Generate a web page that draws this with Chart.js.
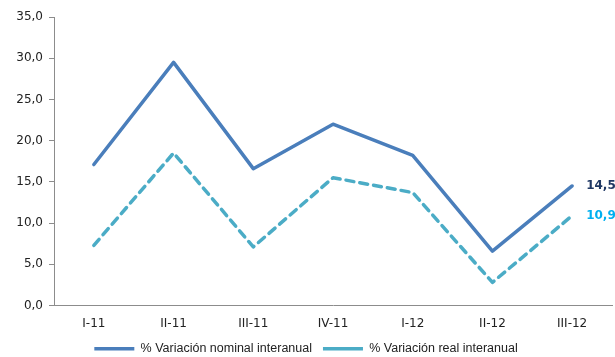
<!DOCTYPE html>
<html>
<head>
<meta charset="utf-8">
<script src="https://cdn.jsdelivr.net/npm/chart.js@4"></script>
<style>
  html, body { margin: 0; padding: 0; background: #fff; }
  #wrap { width: 615px; height: 357px; position: relative; }
</style>
</head>
<body>
<div id="wrap"><canvas id="c"></canvas></div>
<script>
// data
const periods  = ['I-11', 'II-11', 'III-11', 'IV-11', 'I-12', 'II-12', 'III-12'];
const nominal  = [17.1, 29.5, 16.6, 22.0, 18.2, 6.6, 14.5];
const real     = [7.3, 18.5, 7.1, 15.5, 13.7, 2.8, 10.9];
const yTicks   = [0, 5, 10, 15, 20, 25, 30, 35];

const fmt = v => v.toFixed(1).replace('.', ',');

// last-point labels (14,5 / 10,9)
const endLabels = {
  id: 'endLabels',
  afterDatasetsDraw(chart) {
    const ctx = chart.ctx;
    const colors = ['#1f3864', '#00b0f0'];
    ctx.save();
    ctx.font = 'bold 12px "DejaVu Sans", Verdana, sans-serif';
    ctx.textBaseline = 'middle';
    chart.data.datasets.forEach((ds, i) => {
      const meta = chart.getDatasetMeta(i);
      const pt = meta.data[meta.data.length - 1];
      ctx.fillStyle = colors[i];
      ctx.fillText(fmt(ds.data[ds.data.length - 1]), pt.x + 14, pt.y);
    });
    ctx.restore();
  }
};

new Chart(document.getElementById('c').getContext('2d'), {
  type: 'line',
  data: {
    labels: periods,
    datasets: [
      { label: '% Variación nominal interanual', data: nominal, borderColor: '#4a7ebb', backgroundColor: '#4a7ebb',
        borderWidth: 3.5, pointRadius: 0, fill: false, tension: 0, borderCapStyle: 'round', borderJoinStyle: 'round' },
      { label: '% Variación real interanual', data: real, borderColor: '#4bacc6', backgroundColor: '#4bacc6',
        borderWidth: 3.5, borderDash: [8, 6], pointRadius: 0, fill: false, tension: 0, borderCapStyle: 'round', borderJoinStyle: 'round' },
    ]
  },
  options: {
    responsive: true, maintainAspectRatio: false, animation: false,
    layout: { padding: { top: 17, right: 3, left: 0, bottom: -8 } },
    plugins: {
      legend: {
        position: 'bottom',
        labels: {
          usePointStyle: true, pointStyle: 'line', pointStyleWidth: 40,
          color: '#222', padding: 11, boxHeight: 4,
          font: { size: 12.5, family: '"Liberation Sans", Arial, sans-serif' }
        }
      },
      tooltip: { enabled: false }
    },
    scales: {
      x: {
        offset: true,
        grid: { display: false, drawTicks: false },
        border: { color: '#8c8c8c', width: 1 },
        ticks: { color: '#222', padding: 11, font: { size: 12, family: '"DejaVu Sans", Verdana, sans-serif' } },
        afterFit: s => { s.height = 26; }
      },
      y: {
        min: 0, max: 35,
        afterBuildTicks: s => { s.ticks = yTicks.map(v => ({ value: v })); },
        grid: { drawOnChartArea: false, drawTicks: true, tickLength: 5, color: '#8c8c8c' },
        border: { color: '#8c8c8c', width: 1 },
        ticks: { color: '#222', padding: 6, callback: v => fmt(v), font: { size: 12, family: '"DejaVu Sans", Verdana, sans-serif' } },
        afterFit: s => { s.width = 54; }
      }
    }
  },
  plugins: [endLabels]
});
</script>
</body>
</html>
